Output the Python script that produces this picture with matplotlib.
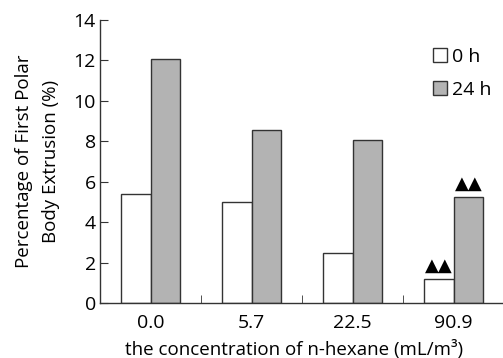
import matplotlib
matplotlib.use("Agg")
import matplotlib.pyplot as plt
import numpy as np

categories = ["0.0", "5.7", "22.5", "90.9"]
h0 = [5.4, 5.0, 2.47, 1.2]
h24 = [12.05, 8.53, 8.04, 5.24]
series_labels = ["0 h", "24 h"]
yticks = [0, 2, 4, 6, 8, 10, 12, 14]

plt.rcParams['font.family'] = ['Open Sans', 'DejaVu Sans']

fig = plt.figure(figsize=(5.03, 3.58), dpi=100)
ax = fig.add_axes([0.199, 0.1536, 0.803, 0.7916])

x = np.arange(len(categories))
w = 0.294
edge = "#333333"
b0 = ax.bar(x - w/2, h0, width=w, color="white", edgecolor=edge, linewidth=1.0, label=series_labels[0])
b1 = ax.bar(x + w/2, h24, width=w, color="#b3b3b3", edgecolor=edge, linewidth=1.0, label=series_labels[1])

# significance markers
ax.text(x[3] - w/2, h0[3] + 0.2, "▲▲", ha="center", va="bottom", fontsize=13,
        family=['DejaVu Sans'])
ax.text(x[3] + w/2, h24[3] + 0.2, "▲▲", ha="center", va="bottom", fontsize=13,
        family=['DejaVu Sans'])

ax.set_xlim(-0.5, 3.5)
ax.set_ylim(0, 14)
ax.set_yticks(yticks)
ax.set_xticks(x)
ax.set_xticklabels(categories)
ax.set_xticks([0.5, 1.5, 2.5], minor=True)
ax.tick_params(axis="x", which="major", length=0, labelsize=14, pad=8)
ax.tick_params(axis="x", which="minor", length=6, direction="in", color=edge)
ax.tick_params(axis="y", length=6, direction="in", labelsize=14, color=edge, pad=3)

for s in ["top", "right"]:
    ax.spines[s].set_visible(False)
for s in ["left", "bottom"]:
    ax.spines[s].set_color(edge)
    ax.spines[s].set_linewidth(1.0)

ax.set_ylabel("Percentage of First Polar\nBody Extrusion (%)", fontsize=13.5, labelpad=10,
              linespacing=1.6)
ax.set_xlabel("the concentration of n-hexane (mL/m³)", fontsize=13.5)
ax.xaxis.set_label_coords(0.48, -0.132, transform=ax.transAxes)
ax.xaxis.label.set_va("top")

ax.legend(loc="upper left", bbox_to_anchor=(0.825, 0.90), frameon=False, fontsize=14,
          handlelength=0.7, handleheight=0.7, handletextpad=0.25, labelspacing=0.75,
          borderaxespad=0, borderpad=0)

fig.savefig("out.png", dpi=100)
